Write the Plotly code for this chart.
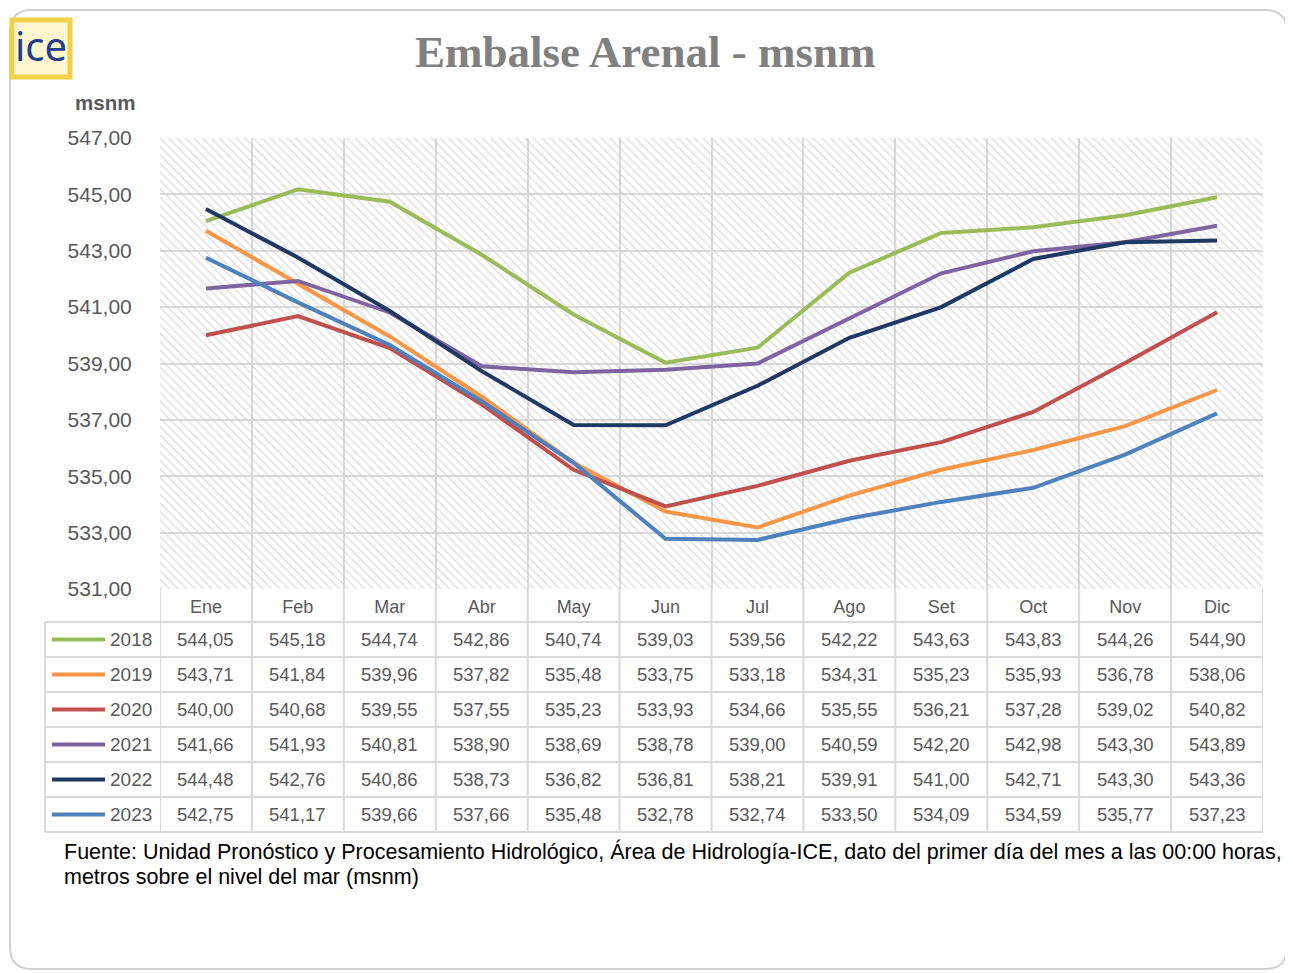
import plotly.graph_objects as go

# datos: nivel del embalse Arenal (msnm), primer dia de cada mes
months = ['Ene', 'Feb', 'Mar', 'Abr', 'May', 'Jun', 'Jul', 'Ago', 'Set', 'Oct', 'Nov', 'Dic']
years = ['2018', '2019', '2020', '2021', '2022', '2023']

lvl_2018 = [544.05, 545.18, 544.74, 542.86, 540.74, 539.03, 539.56, 542.22, 543.63, 543.83, 544.26, 544.90]
lvl_2019 = [543.71, 541.84, 539.96, 537.82, 535.48, 533.75, 533.18, 534.31, 535.23, 535.93, 536.78, 538.06]
lvl_2020 = [540.00, 540.68, 539.55, 537.55, 535.23, 533.93, 534.66, 535.55, 536.21, 537.28, 539.02, 540.82]
lvl_2021 = [541.66, 541.93, 540.81, 538.90, 538.69, 538.78, 539.00, 540.59, 542.20, 542.98, 543.30, 543.89]
lvl_2022 = [544.48, 542.76, 540.86, 538.73, 536.82, 536.81, 538.21, 539.91, 541.00, 542.71, 543.30, 543.36]
lvl_2023 = [542.75, 541.17, 539.66, 537.66, 535.48, 532.78, 532.74, 533.50, 534.09, 534.59, 535.77, 537.23]

series = [lvl_2018, lvl_2019, lvl_2020, lvl_2021, lvl_2022, lvl_2023]
colors = ['#9BBB59', '#F79646', '#C0504D', '#8064A2', '#1F3864', '#4F81BD']

Y_MIN, Y_MAX = 531, 547

# the page puts the figure 8px in from the top-left corner
OFF = 8
W, H = 1293 - OFF, 973 - OFF
L, R, T, B = 160, 1263, 138, 589   # plot area, page pixels
GRID = '#D9D9D9'
TXT = '#595959'
FONT = 'Liberation Sans'


def px(x):
    return (x - L) / (R - L)


def py(y):
    return (B - y) / (B - T)


def fmt(v):
    return '{:.2f}'.format(v).replace('.', ',')


fig = go.Figure()

# fondo rayado del area de trazado
n = len(months)
fig.add_trace(go.Scatter(
    x=[-0.5, n - 0.5, n - 0.5, -0.5], y=[Y_MIN, Y_MIN, Y_MAX, Y_MAX],
    fill='toself', mode='none', hoverinfo='skip', showlegend=False,
    fillcolor='rgba(0,0,0,0)',
    fillpattern=dict(shape='\\', fgcolor='#C9C9C9', bgcolor='rgba(0,0,0,0)',
                     size=6, solidity=0.3),
))

for yr, vals, c in zip(years, series, colors):
    fig.add_trace(go.Scatter(
        x=list(range(n)), y=vals, mode='lines', name=yr,
        line=dict(color=c, width=4), showlegend=False,
    ))

shapes = []
annotations = []

# tabla de datos
row_h = 35
head_bot = 622
rows_y = [head_bot + i * row_h for i in range(len(years) + 1)]
line_style = dict(color=GRID, width=2)

for yb in rows_y:
    shapes.append(dict(type='line', xref='paper', yref='paper',
                       x0=px(45), x1=1, y0=py(yb), y1=py(yb), line=line_style))
for i in range(n + 1):
    shapes.append(dict(type='line', xref='x', yref='paper',
                       x0=i - 0.5, x1=i - 0.5, y0=0, y1=py(rows_y[-1]), line=line_style))
shapes.append(dict(type='line', xref='paper', yref='paper',
                   x0=px(45), x1=px(45), y0=py(head_bot), y1=py(rows_y[-1]), line=line_style))

for r, (yr, vals, c) in enumerate(zip(years, series, colors)):
    yc = py(rows_y[r] + row_h / 2)
    shapes.append(dict(type='line', xref='paper', yref='paper',
                       x0=px(52), x1=px(105), y0=yc, y1=yc,
                       line=dict(color=c, width=4)))
    annotations.append(dict(text=yr, xref='paper', yref='paper', x=px(154), y=yc,
                            xanchor='right', yanchor='middle', showarrow=False,
                            font=dict(family=FONT, size=19, color=TXT)))
    for i, v in enumerate(vals):
        annotations.append(dict(text=fmt(v), xref='x', yref='paper', x=i, y=yc,
                                xanchor='center', yanchor='middle', showarrow=False,
                                font=dict(family=FONT, size=18.5, color=TXT)))

# titulo, unidades y fuente
annotations.append(dict(text='<b>Embalse Arenal - msnm</b>', xref='paper', yref='paper',
                        x=px(645), y=py(52), xanchor='center', yanchor='middle',
                        showarrow=False,
                        font=dict(family='Liberation Serif', size=45, color='#808080')))
annotations.append(dict(text='<b>msnm</b>', xref='paper', yref='paper',
                        x=px(105), y=py(103), xanchor='center', yanchor='middle',
                        showarrow=False, font=dict(family=FONT, size=20.5, color=TXT)))
source_lines = [
    'Fuente: Unidad Pronóstico y Procesamiento Hidrológico, Área de Hidrología-ICE, '
    'dato del primer día del mes a las 00:00 horas,',
    'metros sobre el nivel del mar (msnm)',
]
for k, s in enumerate(source_lines):
    annotations.append(dict(text=s, xref='paper', yref='paper', x=px(62), y=py(852 + 25 * k),
                            xanchor='left', yanchor='middle', showarrow=False,
                            font=dict(family=FONT, size=21.5, color='#000000')))

# logo ICE
shapes.append(dict(type='rect', xref='paper', yref='paper',
                   x0=px(12), x1=px(70), y0=py(77), y1=py(20),
                   fillcolor='#FDF6CF', line=dict(color='#F2D04A', width=5)))
annotations.append(dict(text='ice', xref='paper', yref='paper', x=px(41), y=py(46),
                        xanchor='center', yanchor='middle', showarrow=False,
                        font=dict(family='Noto Sans', size=40, color='#1F3F8A')))

# marco redondeado (left/top kept inside the figure area)
r0 = 22
x0, x1, y0, y1 = px(OFF + 2), px(1287), py(OFF + 2), py(969)
rx = r0 / (R - L)
ry = r0 / (B - T)
border = ('M {a},{t} L {b},{t} Q {x1},{t} {x1},{t2} L {x1},{b2} Q {x1},{bt} {b},{bt} '
          'L {a},{bt} Q {x0},{bt} {x0},{b2} L {x0},{t2} Q {x0},{t} {a},{t} Z').format(
    a=x0 + rx, b=x1 - rx, t=y0, t2=y0 - ry, bt=y1, b2=y1 + ry, x0=x0, x1=x1)
shapes.append(dict(type='path', xref='paper', yref='paper', path=border,
                   line=dict(color='#D0D0D0', width=2), layer='below'))

fig.update_layout(
    width=W, height=H,
    margin=dict(l=L - OFF, r=W - (R - OFF), t=T - OFF, b=H - (B - OFF), pad=0),
    paper_bgcolor='white', plot_bgcolor='white',
    separators=',.',
    showlegend=False,
    shapes=shapes,
    annotations=annotations,
    xaxis=dict(
        range=[-0.5, n - 0.5], tickvals=list(range(n)), ticktext=months,
        showgrid=False, zeroline=False, showline=False,
        tickfont=dict(family=FONT, size=18, color=TXT),
        ticks='outside', ticklen=1, tickcolor='rgba(0,0,0,0)',
        minor=dict(tick0=0.5, dtick=1, showgrid=True, gridcolor=GRID, gridwidth=1.5),
        fixedrange=True,
    ),
    yaxis=dict(
        range=[Y_MIN, Y_MAX], tick0=Y_MIN, dtick=2, tickformat='.2f',
        showgrid=True, gridcolor=GRID, gridwidth=1.5, zeroline=False, showline=False,
        tickfont=dict(family=FONT, size=21, color=TXT),
        ticks='outside', ticklen=23, tickcolor='rgba(0,0,0,0)',
        fixedrange=True,
    ),
)

fig.write_html('out.html')
